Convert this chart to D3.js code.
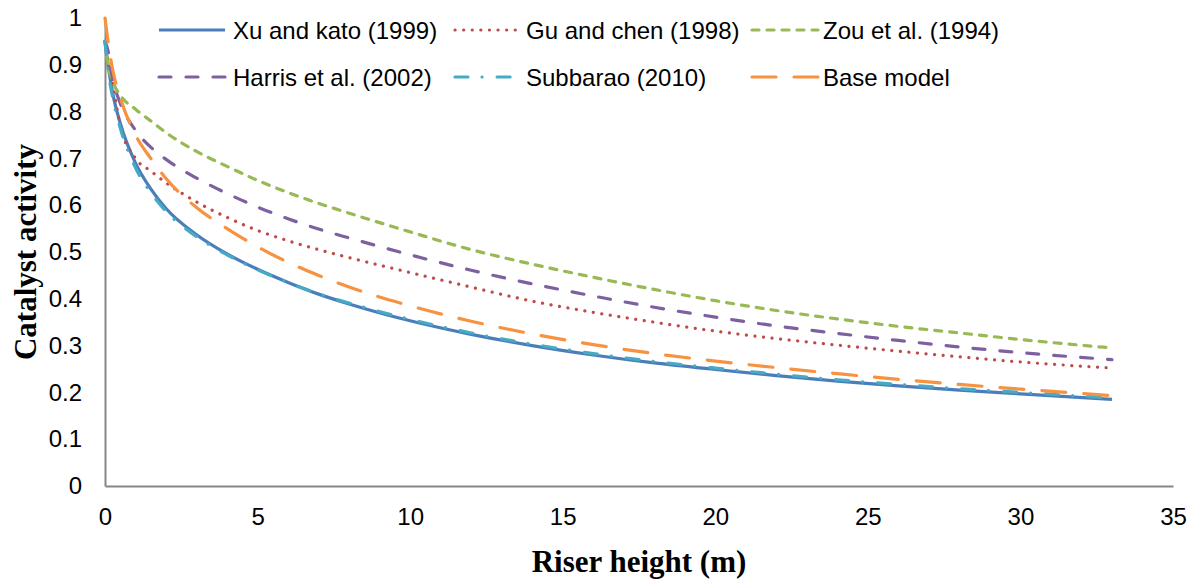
<!DOCTYPE html>
<html>
<head>
<meta charset="utf-8">
<script src="https://cdn.jsdelivr.net/npm/d3@7"></script>
<style>
  body { margin: 0; background: #fff; }
  svg { display: block; }
</style>
</head>
<body>
<div id="chart"></div>
<script>
var heights = [0, 0.1, 0.25, 0.5, 1, 1.5, 2, 3, 4, 5, 6, 7, 8, 10, 12, 14, 16, 18, 20, 22, 24, 26, 28, 30, 33];

var xuKato   = [0.95, 0.90, 0.84, 0.775, 0.69, 0.635, 0.593, 0.537, 0.496, 0.463, 0.435, 0.41, 0.389, 0.353, 0.324, 0.30, 0.28, 0.263, 0.249, 0.236, 0.224, 0.214, 0.205, 0.197, 0.185];
var guChen   = [0.95, 0.91, 0.86, 0.77, 0.70, 0.673, 0.648, 0.607, 0.574, 0.546, 0.524, 0.505, 0.488, 0.456, 0.425, 0.395, 0.371, 0.35, 0.331, 0.315, 0.301, 0.288, 0.276, 0.265, 0.252];
var zou      = [0.95, 0.90, 0.865, 0.835, 0.805, 0.78, 0.755, 0.715, 0.683, 0.653, 0.627, 0.604, 0.583, 0.543, 0.505, 0.474, 0.446, 0.42, 0.396, 0.375, 0.357, 0.341, 0.327, 0.313, 0.295];
var harris   = [0.95, 0.93, 0.87, 0.818, 0.76, 0.724, 0.698, 0.658, 0.625, 0.596, 0.571, 0.549, 0.53, 0.494, 0.461, 0.432, 0.406, 0.382, 0.361, 0.342, 0.326, 0.311, 0.297, 0.285, 0.27];
var subbarao = [0.95, 0.89, 0.83, 0.765, 0.68, 0.627, 0.587, 0.533, 0.494, 0.462, 0.435, 0.411, 0.391, 0.356, 0.327, 0.303, 0.283, 0.266, 0.252, 0.239, 0.227, 0.217, 0.208, 0.20, 0.188];
var baseModel = [1.0, 0.95, 0.89, 0.83, 0.75, 0.70, 0.657, 0.595, 0.55, 0.511, 0.478, 0.45, 0.425, 0.385, 0.352, 0.325, 0.302, 0.283, 0.267, 0.253, 0.24, 0.228, 0.217, 0.207, 0.193];

var seriesNames = ["Xu and kato (1999)", "Gu and chen (1998)", "Zou et al. (1994)",
                   "Harris et al. (2002)", "Subbarao (2010)", "Base model"];
var seriesValues = [xuKato, guChen, zou, harris, subbarao, baseModel];

var xTicks = [0, 5, 10, 15, 20, 25, 30, 35];
var yTicks = [0, 0.1, 0.2, 0.3, 0.4, 0.5, 0.6, 0.7, 0.8, 0.9, 1];

// line looks, same order as the series
var styles = [
  { color: "#4A7EBB", dash: null },
  { color: "#BE4B48", dash: "0.1,8.5" },
  { color: "#98B954", dash: "7,8" },
  { color: "#7D60A0", dash: "12,15" },
  { color: "#46AAC5", dash: "13,14,0.1,15" },
  { color: "#F69240", dash: "24,18" }
];

var svgWidth = 1195, svgHeight = 582;
var margin = { top: 18, right: 22, bottom: 96, left: 105 };
var width = svgWidth - margin.left - margin.right;
var height = svgHeight - margin.top - margin.bottom;

var svg = d3.select("#chart").append("svg")
  .attr("width", svgWidth)
  .attr("height", svgHeight);

var chartGroup = svg.append("g")
  .attr("transform", `translate(${margin.left}, ${margin.top})`);

var xScale = d3.scaleLinear().domain([0, 35]).range([0, width]);
var yScale = d3.scaleLinear().domain([0, 1]).range([height, 0]);

var tickFont = "'Liberation Sans', Arial, sans-serif";

// axes
var yAxis = chartGroup.append("g")
  .call(d3.axisLeft(yScale).tickValues(yTicks).tickSize(0).tickPadding(23).tickFormat(d3.format("")));
var xAxis = chartGroup.append("g")
  .attr("transform", `translate(0, ${height})`)
  .call(d3.axisBottom(xScale).tickValues(xTicks).tickSize(0).tickPadding(22));

[xAxis, yAxis].forEach(function(ax) {
  ax.select(".domain").attr("stroke", "#868686").attr("stroke-width", 2);
  ax.selectAll("text")
    .attr("font-family", tickFont)
    .attr("font-size", 24)
    .attr("fill", "#000");
});

// series lines
var line = d3.line()
  .x(function(d) { return xScale(d[0]); })
  .y(function(d) { return yScale(d[1]); })
  .curve(d3.curveMonotoneX);

seriesValues.forEach(function(vals, i) {
  var pts = heights.map(function(h, j) { return [h, vals[j]]; });
  chartGroup.append("path")
    .datum(pts)
    .attr("d", line)
    .attr("fill", "none")
    .attr("stroke", styles[i].color)
    .attr("stroke-width", 3.2)
    .attr("stroke-linecap", styles[i].dash ? "round" : "butt")
    .attr("stroke-dasharray", styles[i].dash);
});

// legend, two rows of three
var legendCols = [157, 453, 750];
var legendRows = [30, 77];
seriesNames.forEach(function(name, i) {
  var cx = legendCols[i % 3], cy = legendRows[Math.floor(i / 3)];
  var g = svg.append("g").attr("transform", `translate(${cx}, ${cy})`);
  g.append("line")
    .attr("x1", 2).attr("x2", 68)
    .attr("stroke", styles[i].color)
    .attr("stroke-width", 3.2)
    .attr("stroke-linecap", styles[i].dash ? "round" : "butt")
    .attr("stroke-dasharray", styles[i].dash);
  g.append("text")
    .attr("x", i % 3 === 0 ? 76 : 73)
    .attr("dy", "0.36em")
    .attr("font-family", tickFont)
    .attr("font-size", 24)
    .text(name);
});

// axis titles
svg.append("text")
  .attr("x", 639)
  .attr("y", 572)
  .attr("text-anchor", "middle")
  .attr("font-family", "'Liberation Serif', 'Times New Roman', serif")
  .attr("font-weight", "bold")
  .attr("font-size", 31)
  .text("Riser height (m)");

svg.append("text")
  .attr("transform", "translate(36, 252) rotate(-90)")
  .attr("text-anchor", "middle")
  .attr("font-family", "'Liberation Serif', 'Times New Roman', serif")
  .attr("font-weight", "bold")
  .attr("font-size", 31)
  .text("Catalyst activity");
</script>
</body>
</html>
